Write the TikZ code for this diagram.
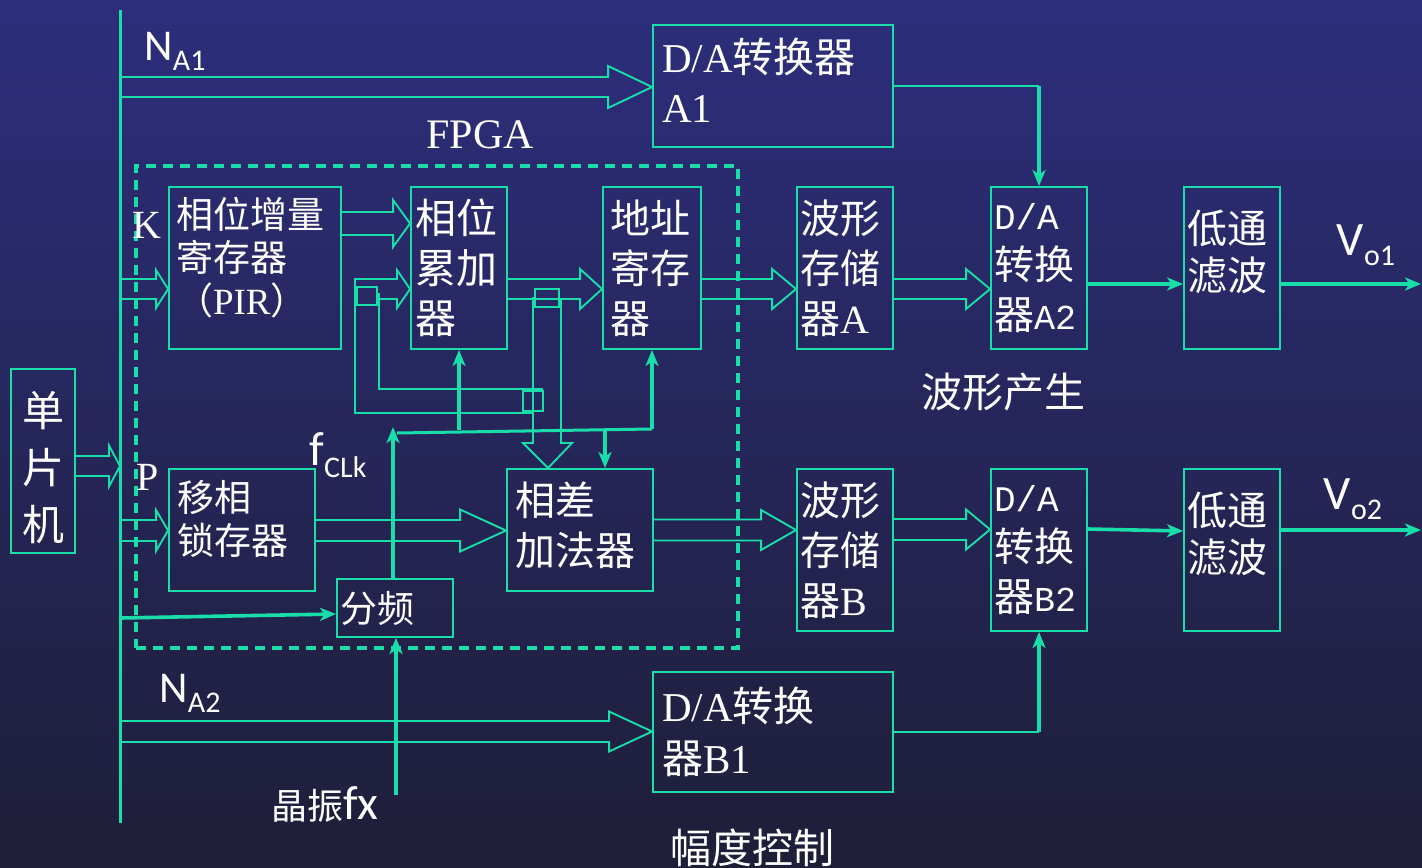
\documentclass[tikz,border=0pt]{standalone}
\usepackage{fontspec}
\setmainfont{Noto Sans CJK SC}
\newfontfamily\serifL{Liberation Serif}
\newfontfamily\monoL{Liberation Mono}
\newfontfamily\sansL{Carlito}
\usetikzlibrary{arrows.meta,calc}
\definecolor{bgtop}{RGB}{45,46,124}
\definecolor{bgbot}{RGB}{30,30,56}
\definecolor{lineC}{RGB}{25,222,170}
\newcommand\fs[2]{\fontsize{#1}{#2}\selectfont}
\tikzset{
  box/.style={draw=lineC, line width=0.95pt, text=white, align=left, inner ysep=0pt},
  btxt/.style={text=white, align=left, inner ysep=0pt},
  conn/.style={draw=lineC, line width=0.95pt, line join=miter},
  thk/.style={draw=lineC, line width=1.8pt, -{Stealth[length=8pt,width=6.5pt,inset=2.2pt]}},
  lbl/.style={text=white, inner sep=0pt},
  fpga/.style={draw=lineC, line width=2pt, dash pattern=on 5pt off 3.5pt},
}
\newcommand\harrow[6]{%
  \pgfmathsetmacro\hyA{-(#3-#4)*0.5}%
  \pgfmathsetmacro\hyB{-(#3+#4)*0.5}%
  \pgfmathsetmacro\hyC{-(#3-#6)*0.5}%
  \pgfmathsetmacro\hyD{-(#3+#6)*0.5}%
  \pgfmathsetmacro\hyM{-(#3)*0.5}%
  \draw[conn] let \p1=(#1), \p2=(#2), \p3=($(#2)+(-#5,0)$) in
    (\x1,\hyA pt) -- (\x3,\hyA pt) -- (\x3,\hyC pt) -- (\x2,\hyM pt) -- (\x3,\hyD pt) -- (\x3,\hyB pt) -- (\x1,\hyB pt);}
\begin{document}
\begin{tikzpicture}[x=0.5pt,y=-0.5pt]
\fill[top color=bgtop, bottom color=bgbot] (0,0) rectangle (1422,867);
\useasboundingbox (0,0) rectangle (1422,867);

% bus
\coordinate (bustop) at (120,10);
\coordinate (busbot) at (120,823);
\draw[lineC, line width=1.5pt] (bustop) -- (busbot);

% FPGA frame
\node[fpga, minimum width=301pt, minimum height=241pt, inner sep=0pt] (fpgabox) at (437,407) {};
\node[lbl, font=\serifL\fs{21}{21}] (fpgat) at (480,135) {FPGA};

% boxes
\node[box, minimum width=32pt, minimum height=92pt] (mcu) at (43,461) {};
\node[btxt, text width=28pt, inner xsep=2pt, align=center, font=\fs{21}{28.5}] (mcut) at (43,467.5) {单\\片\\机};
\node[box, minimum width=120pt, minimum height=61pt] (daa1) at (773,86) {};
\node[btxt, text width=111pt, inner xsep=4.5pt, font=\fs{20.5}{25}] (daa1t) at (773,80) {{\serifL D/A}转换器\\{\serifL A1}};
\node[box, minimum width=86pt, minimum height=81pt] (pir) at (255,268) {};
\node[btxt, text width=79pt, inner xsep=3.5pt, font=\fs{18.5}{21.5}] (pirt) at (255,258) {相位增量\\寄存器\\（{\serifL PIR}）};
\node[box, minimum width=48pt, minimum height=81pt, text width=44pt, inner xsep=2pt, font=\fs{20.5}{25}] (acc) at (459,268) {相位\\累加\\器};
\node[box, minimum width=49pt, minimum height=81pt, text width=42pt, inner xsep=3.5pt, font=\fs{20}{25}] (addr) at (652,268) {地址\\寄存\\器};
\node[box, minimum width=48pt, minimum height=81pt, text width=45pt, inner xsep=1.5pt, font=\fs{20}{25}] (wsa) at (845,268) {波形\\存储\\器{\serifL A}};
\node[box, minimum width=48pt, minimum height=81pt, text width=45pt, inner xsep=1.5pt, font=\fs{20}{25}] (daa2) at (1039,268) {{\monoL\fontsize{18}{25}\selectfont D/A}\\转换\\器{\monoL\fontsize{17.5}{25}\selectfont A2}};
\node[box, minimum width=48pt, minimum height=81pt] (lpa) at (1232,268) {};
\node[btxt, text width=45pt, inner xsep=0pt, font=\fs{20}{23.5}] (lpat) at (1232,252) {低通\\滤波};
\node[box, minimum width=73pt, minimum height=61pt] (shl) at (242,530) {};
\node[btxt, text width=65pt, inner xsep=4pt, font=\fs{18.5}{21.5}] (shlt) at (242,519) {移相\\锁存器};
\node[box, minimum width=73pt, minimum height=61pt] (diff) at (580,530) {};
\node[btxt, text width=65pt, inner xsep=4pt, font=\fs{20}{25}] (difft) at (580,525) {相差\\加法器};
\node[box, minimum width=58pt, minimum height=29pt, text width=55pt, inner xsep=1.5pt, font=\fs{18.5}{22}] (div) at (395,608) {分频};
\node[box, minimum width=48pt, minimum height=81pt, text width=45pt, inner xsep=1.5pt, font=\fs{20}{25}] (wsb) at (845,550) {波形\\存储\\器{\serifL B}};
\node[box, minimum width=48pt, minimum height=81pt, text width=45pt, inner xsep=1.5pt, font=\fs{20}{25}] (dab2) at (1039,550) {{\monoL\fontsize{18}{25}\selectfont D/A}\\转换\\器{\monoL\fontsize{17.5}{25}\selectfont B2}};
\node[box, minimum width=48pt, minimum height=81pt] (lpb) at (1232,550) {};
\node[btxt, text width=45pt, inner xsep=0pt, font=\fs{20}{23.5}] (lpbt) at (1232,534) {低通\\滤波};
\node[box, minimum width=120pt, minimum height=60pt, text width=111pt, inner xsep=4.5pt, font=\fs{20.5}{26}] (dab1) at (773,732) {{\serifL D/A}转换\\器{\serifL B1}};

% hollow (bus-width) arrows
\harrow{mcu.east}{bustop}{466}{10}{11}{20.5}
\harrow{bustop}{daa1.west}{87}{10}{44}{21}
\harrow{bustop}{pir.west}{289}{10}{12}{19}
\harrow{bustop}{shl.west}{530.5}{10.5}{12}{20.5}
\harrow{bustop}{dab1.west}{731.5}{10.5}{43}{20}
\harrow{pir.east}{acc.west}{223.5}{11.5}{17}{23.5}
\harrow{acc.east}{addr.west}{289}{10}{22}{20}
\harrow{addr.east}{wsa.west}{289}{10}{24}{20}
\harrow{wsa.east}{daa2.west}{289}{10}{24}{20}
\harrow{shl.east}{diff.west}{530.5}{10.5}{46}{21}
\harrow{diff.east}{wsb.west}{530}{10.5}{35}{20}
\harrow{wsb.east}{dab2.west}{529.5}{10.5}{24}{20}

% feedback of the phase accumulator
\draw[conn] (533,413) -- (355,413) -- (355,279) -- (397,279) -- (397,270) -- ([yshift=-10.5pt]acc.west) -- (397,308) -- (397,299) -- (377,299);
\draw[conn] (379,293) -- (379,389) -- (543,389);
\draw[conn] (357,287) rectangle (377,305);
\draw[conn] (523,391) rectangle (543,411);
\draw[conn] (535,289) rectangle (559,307);
\draw[conn] (533,297) -- (533,443) -- (523,443) -- (diff.north -| 548,0) -- (572,443) -- (561,443) -- (561,298);

% clock distribution
\draw[thk] (div.north -| 393,0) -- (393,427);
\draw[lineC, line width=1.5pt] (397,433) -- (652,429);
\draw[thk] (acc.south |- 0,430) -- (acc.south);
\draw[thk] (addr.south |- 0,429) -- (addr.south);
\draw[thk] (605,429) -- (diff.north -| 605,0);
\draw[thk] (120,618) -- ([yshift=-3pt]div.west);
\draw[thk] (396,795) -- (div.south -| 396,0);

% amplitude D/A to output D/A
\coordinate (cA) at (daa1.east -| daa2.north);
\draw[conn, line width=1.1pt] (daa1.east) -- (cA);
\draw[thk] (cA) -- (daa2.north);
\coordinate (cB) at (dab1.east -| dab2.south);
\draw[conn, line width=1.1pt] (dab1.east) -- (cB);
\draw[thk] (cB) -- (dab2.south);

% outputs
\coordinate (outa) at (1421,284);
\coordinate (outb) at (1421,530);
\draw[thk] ([yshift=-8pt]daa2.east) -- ([yshift=-8pt]lpa.west);
\draw[thk] ([yshift=-8pt]lpa.east) -- (outa);
\draw[thk] ([yshift=10.5pt]dab2.east) -- ([yshift=9.5pt]lpb.west);
\draw[thk] ([yshift=10pt]lpb.east) -- (outb);

% labels
\node[lbl, font=\sansL\fs{22}{22}] (na1) at (175,51) {N\raisebox{-5pt}{\fs{15}{15}A1}};
\node[lbl, font=\sansL\fs{22}{22}] (na2) at (190,693) {N\raisebox{-5pt}{\fs{15}{15}A2}};
\node[lbl, font=\serifL\fs{20}{20}] (kl) at (147,225) {K};
\node[lbl, font=\serifL\fs{20}{20}] (pl) at (148,477) {P};
\node[lbl, font=\sansL\fs{24}{24}] (fclk) at (338,455) {f\raisebox{-6pt}{\fs{15}{15}CLk}};
\node[lbl, font=\sansL\fs{24}{24}] (vo1) at (1366,245) {V\raisebox{-5pt}{\fs{15}{15}o1}};
\node[lbl, font=\sansL\fs{24}{24}] (vo2) at (1353,499) {V\raisebox{-5pt}{\fs{15}{15}o2}};
\node[lbl, font=\fs{18}{18}] (xtal) at (325,805) {晶振{\sansL\fs{24}{24}fx}};
\node[lbl, font=\fs{20.5}{20.5}] (wgen) at (1003,392) {波形产生};
\node[lbl, font=\fs{20.5}{20.5}] (ampc) at (752,848) {幅度控制};
\end{tikzpicture}
\end{document}
